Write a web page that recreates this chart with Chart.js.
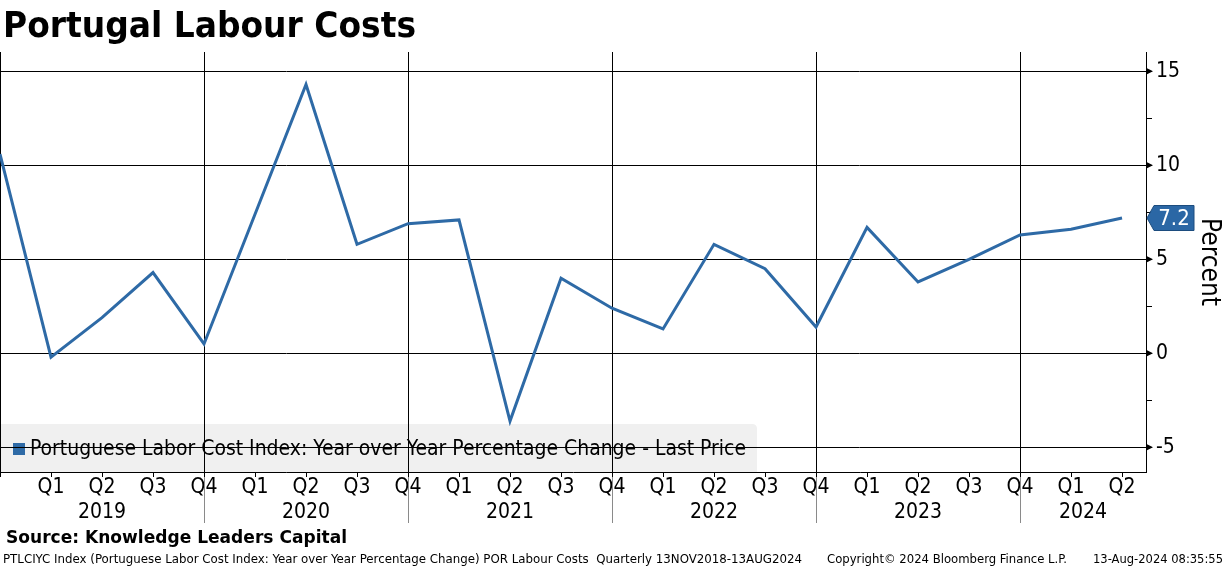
<!DOCTYPE html>
<html>
<head>
<meta charset="utf-8">
<title>Portugal Labour Costs</title>
<script src="https://cdn.jsdelivr.net/npm/chart.js@4.4.1/dist/chart.umd.min.js"></script>
<style>
  body { margin: 0; background: #fff; }
  #wrap { position: relative; width: 1224px; height: 566px; overflow: hidden;
          font-family: "DejaVu Sans Condensed", "DejaVu Sans", sans-serif; }
  #wrap canvas { position: absolute; left: 0; top: 0; }
  .txt { position: absolute; white-space: nowrap; line-height: 1; transform-origin: 0 0; color: #000; }
  #title { left: 3px; top: 7px; font-size: 36px; font-weight: bold; font-family: "DejaVu Sans", sans-serif; }
  #source { left: 6px; top: 528px; font-size: 18.5px; font-weight: bold; font-family: "DejaVu Sans", sans-serif; }
  .foot { top: 552px; font-size: 13px; }
</style>
</head>
<body>
<div id="wrap">
  <canvas id="myChart"></canvas>
  <div class="txt" id="title" data-w="413">Portugal Labour Costs</div>
  <div class="txt" id="source" data-w="341">Source: Knowledge Leaders Capital</div>
  <div class="txt foot" style="left:3px" data-w="799">PTLCIYC Index (Portuguese Labor Cost Index: Year over Year Percentage Change) POR Labour Costs&nbsp; Quarterly 13NOV2018-13AUG2024</div>
  <div class="txt foot" style="left:827px" data-w="240">Copyright© 2024 Bloomberg Finance L.P.</div>
  <div class="txt foot" style="left:1093px" data-w="130">13-Aug-2024 08:35:55</div>
</div>
<script>
// quarterly points, Q4 2018 .. Q2 2024
var quarterLabels = ["Q4",
  "Q1", "Q2", "Q3", "Q4",
  "Q1", "Q2", "Q3", "Q4",
  "Q1", "Q2", "Q3", "Q4",
  "Q1", "Q2", "Q3", "Q4",
  "Q1", "Q2", "Q3", "Q4",
  "Q1", "Q2"];
var yearLabels = ["2019", "2020", "2021", "2022", "2023", "2024"];
var laborCostYoY = [10.6,
  -0.2, 1.9, 4.3, 0.5,
  7.4, 14.3, 5.8, 6.9,
  7.1, -3.6, 4.0, 2.4,
  1.3, 5.8, 4.5, 1.4,
  6.7, 3.8, 5.0, 6.3,
  6.6, 7.2];
var yTickValues = [-5, -2.5, 0, 2.5, 5, 7.5, 10, 12.5, 15];

var seriesName = "Portuguese Labor Cost Index: Year over Year Percentage Change - Last Price";
var lineColor = "#2e6aa6";
var fontFamily = '"DejaVu Sans Condensed", "DejaVu Sans", sans-serif';

// fit the html texts to the widths measured on the original
document.querySelectorAll(".txt").forEach(function (el) {
  var w = +el.dataset.w;
  var cur = el.getBoundingClientRect().width;
  el.style.transform = "scaleX(" + (w / cur) + ")";
});

var decor = {
  id: "decor",
  beforeDraw: function (chart) {
    var ctx = chart.ctx;
    var bottom = chart.chartArea.bottom;
    // legend box (sits under the grid)
    ctx.save();
    ctx.fillStyle = "#f0f0f0";
    ctx.beginPath();
    ctx.moveTo(0, 424);
    ctx.lineTo(752, 424);
    ctx.quadraticCurveTo(757, 424, 757, 429);
    ctx.lineTo(757, bottom);
    ctx.lineTo(0, bottom);
    ctx.closePath();
    ctx.fill();
    ctx.fillStyle = lineColor;
    ctx.fillRect(13, 443, 12, 12);
    ctx.fillStyle = "#000";
    ctx.font = "21px " + fontFamily;
    ctx.textBaseline = "middle";
    ctx.fillText(seriesName, 30, 450, 716);
    ctx.restore();
  },
  afterDraw: function (chart) {
    var ctx = chart.ctx;
    var xs = chart.scales.x;
    var ys = chart.scales.y;
    var area = chart.chartArea;
    ctx.save();
    // year separators below the axis
    ctx.strokeStyle = "#8a8a8a";
    ctx.lineWidth = 1;
    for (var i = 4; i < quarterLabels.length; i += 4) {
      var px = Math.round(xs.getPixelForValue(i)) + 0.5;
      ctx.beginPath();
      ctx.moveTo(px, area.bottom + 5);
      ctx.lineTo(px, 523);
      ctx.stroke();
    }
    // year labels centred in each year span
    ctx.fillStyle = "#000";
    ctx.font = "21px " + fontFamily;
    ctx.textAlign = "center";
    ctx.textBaseline = "alphabetic";
    yearLabels.forEach(function (yr, k) {
      var a = xs.getPixelForValue(k * 4);
      var b = Math.min(xs.getPixelForValue(k * 4 + 4), area.right);
      ctx.fillText(yr, (a + b) / 2, 518);
    });
    // arrow heads on the major y ticks
    yTickValues.forEach(function (v) {
      if (v % 5 !== 0) return;
      var py = ys.getPixelForValue(v);
      ctx.beginPath();
      ctx.moveTo(area.right, py - 3.5);
      ctx.lineTo(area.right + 7, py);
      ctx.lineTo(area.right, py + 3.5);
      ctx.closePath();
      ctx.fill();
    });
    // last value tag
    var last = laborCostYoY[laborCostYoY.length - 1];
    var ty = ys.getPixelForValue(last);
    var x0 = area.right + 1;
    ctx.beginPath();
    ctx.moveTo(x0, ty);
    ctx.lineTo(x0 + 7, ty - 12.5);
    ctx.lineTo(x0 + 47, ty - 12.5);
    ctx.lineTo(x0 + 47, ty + 12.5);
    ctx.lineTo(x0 + 7, ty + 12.5);
    ctx.closePath();
    ctx.fillStyle = "#2b67a5";
    ctx.fill();
    ctx.strokeStyle = "#1c4c7e";
    ctx.stroke();
    ctx.fillStyle = "#fff";
    ctx.font = "22px " + fontFamily;
    ctx.textBaseline = "middle";
    ctx.fillText(last.toFixed(1), x0 + 27, ty + 1);
    ctx.restore();
  }
};

var ctx = document.getElementById("myChart").getContext("2d");

var myChart = new Chart(ctx, {
  type: "line",
  data: {
    datasets: [{
      label: seriesName,
      data: laborCostYoY.map(function (v, i) { return { x: i, y: v }; }),
      borderColor: lineColor,
      borderWidth: 3,
      pointRadius: 0,
      tension: 0,
      fill: false
    }]
  },
  options: {
    responsive: true,
    maintainAspectRatio: false,
    animation: false,
    layout: { padding: { top: 52, left: 0, right: 0, bottom: 0 } },
    plugins: {
      legend: { display: false },
      tooltip: { enabled: false }
    },
    scales: {
      x: {
        type: "linear",
        min: 0,
        max: 22.47,
        afterBuildTicks: function (s) {
          s.ticks = quarterLabels.map(function (q, i) { return { value: i }; });
        },
        afterFit: function (s) { s.height = 94; },
        ticks: {
          autoSkip: false,
          maxRotation: 0,
          padding: -2,
          color: "#000",
          font: { family: fontFamily, size: 21 },
          callback: function (v) { return v === 0 ? "" : quarterLabels[v]; }
        },
        grid: {
          color: function (c) {
            return c.tick && c.tick.value % 4 === 0 ? "#000" : "rgba(0,0,0,0)";
          },
          tickColor: "#000",
          tickLength: 5,
          lineWidth: 1
        },
        border: { display: true, color: "#000", width: 1 }
      },
      y: {
        position: "right",
        min: -6.31,
        max: 16.03,
        afterBuildTicks: function (s) {
          s.ticks = yTickValues.map(function (v) { return { value: v }; });
        },
        afterFit: function (s) { s.width = 78; },
        ticks: {
          padding: 4,
          color: "#000",
          font: { family: fontFamily, size: 21 },
          callback: function (v) { return v % 5 === 0 ? String(v) : ""; }
        },
        grid: {
          color: function (c) {
            return c.tick && c.tick.value % 5 === 0 ? "#000" : "rgba(0,0,0,0)";
          },
          tickColor: "#000",
          tickLength: 6
        },
        border: { display: true, color: "#000", width: 1 },
        title: {
          display: true,
          text: "Percent",
          color: "#000",
          font: { family: fontFamily, size: 26 },
          padding: { top: 0, bottom: 2 }
        }
      }
    }
  },
  plugins: [decor]
});
</script>
</body>
</html>
